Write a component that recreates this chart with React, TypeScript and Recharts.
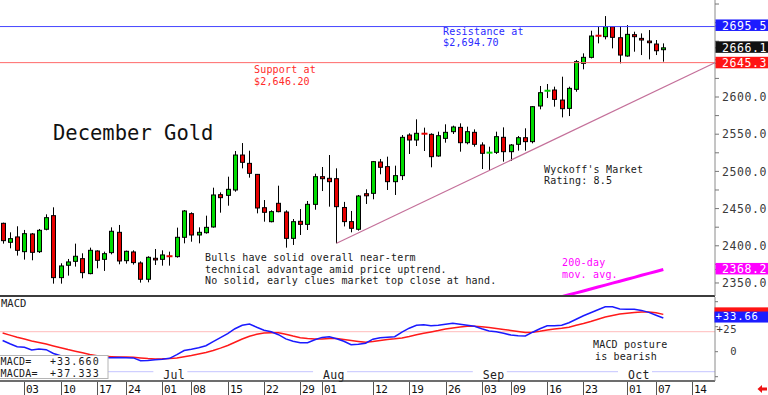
// December Gold daily candles + MACD panel, Recharts version.

import { ComposedChart, Bar, Line, XAxis, YAxis, ReferenceLine } from "recharts";

// ── Data (trading sessions May 29 .. Oct 08) ────────────────────────────────

const OPEN = [
  2430.2, 2404.7, 2411.9, 2392.1, 2415.9, 2392.1, 2422.2, 2440.5, 2357.2, 2373.8,
  2379.1, 2382.7, 2362.6, 2393.0, 2381.8, 2390.8, 2418.1, 2380.0, 2391.7, 2376.9,
  2355.0, 2383.2, 2381.8, 2386.3, 2385.4, 2411.4, 2443.2, 2414.5, 2417.6, 2425.3,
  2468.7, 2467.8, 2475.0, 2522.0, 2510.8, 2496.0, 2451.2, 2432.4, 2457.1, 2445.4,
  2410.0, 2432.9, 2428.8, 2455.7, 2492.9, 2490.7, 2490.2, 2451.5, 2432.5, 2422.2,
  2470.0, 2470.5, 2512.6, 2506.4, 2486.2, 2494.3, 2548.9, 2542.2, 2551.0, 2549.8,
  2520.7, 2544.4, 2553.4, 2559.2, 2538.6, 2552.5, 2535.5, 2524.8, 2525.6, 2545.8,
  2526.5, 2536.4, 2545.3, 2540.0, 2587.9, 2608.1, 2609.4, 2595.9, 2584.7, 2610.3,
  2645.2, 2653.3, 2682.6, 2681.1, 2694.5, 2679.7, 2655.1, 2683.8, 2678.8, 2675.2,
  2671.2, 2663.6,
];
const HIGH = [
  2431.1, 2418.1, 2426.2, 2421.3, 2417.2, 2422.6, 2442.3, 2451.7, 2376.5, 2382.3,
  2402.9, 2389.9, 2397.5, 2393.9, 2392.1, 2424.8, 2428.0, 2393.5, 2393.9, 2379.1,
  2385.9, 2395.7, 2393.9, 2392.1, 2424.4, 2448.1, 2445.0, 2424.8, 2440.5, 2478.1,
  2471.8, 2492.9, 2527.4, 2538.1, 2527.8, 2496.5, 2461.5, 2447.7, 2480.8, 2447.7,
  2436.0, 2449.4, 2460.2, 2496.9, 2505.9, 2522.0, 2504.1, 2459.0, 2446.8, 2468.3,
  2475.9, 2514.0, 2516.7, 2519.8, 2507.7, 2548.9, 2551.2, 2570.0, 2558.8, 2551.2,
  2553.4, 2563.3, 2561.5, 2564.6, 2560.1, 2556.5, 2539.1, 2533.2, 2553.4, 2559.2,
  2536.8, 2547.6, 2557.9, 2587.9, 2614.8, 2617.5, 2613.9, 2627.3, 2613.9, 2649.7,
  2658.7, 2689.1, 2694.5, 2708.8, 2695.4, 2695.4, 2696.7, 2687.8, 2685.5, 2690.0,
  2676.6, 2672.1,
];
const LOW = [
  2402.9, 2396.6, 2386.8, 2381.4, 2380.5, 2390.3, 2420.8, 2349.1, 2349.1, 2359.9,
  2372.0, 2356.3, 2361.7, 2369.7, 2366.2, 2388.5, 2375.1, 2376.0, 2374.7, 2350.5,
  2350.9, 2374.2, 2373.3, 2373.3, 2384.1, 2403.3, 2405.5, 2403.3, 2416.3, 2424.4,
  2444.5, 2453.9, 2472.7, 2504.1, 2491.6, 2443.6, 2432.4, 2431.5, 2445.0, 2397.5,
  2401.1, 2414.5, 2421.2, 2448.5, 2473.6, 2452.6, 2403.3, 2426.0, 2418.1, 2420.4,
  2456.2, 2462.5, 2496.1, 2475.0, 2468.3, 2488.4, 2523.4, 2534.1, 2527.4, 2505.5,
  2519.8, 2538.6, 2550.3, 2526.5, 2536.4, 2533.2, 2503.2, 2501.9, 2523.4, 2513.1,
  2514.0, 2527.9, 2527.9, 2537.7, 2583.4, 2598.6, 2587.0, 2572.6, 2574.4, 2607.1,
  2637.2, 2651.9, 2672.1, 2677.5, 2665.4, 2645.2, 2654.2, 2660.9, 2656.4, 2650.6,
  2656.4, 2647.5,
];
const CLOSE = [
  2406.9, 2409.6, 2393.9, 2416.3, 2391.2, 2420.8, 2437.8, 2357.2, 2372.9, 2378.3,
  2385.9, 2363.9, 2393.9, 2380.5, 2389.4, 2419.5, 2379.6, 2392.6, 2377.4, 2355.0,
  2384.5, 2381.0, 2387.7, 2385.6, 2411.4, 2446.8, 2414.5, 2418.1, 2424.8, 2468.3,
  2464.7, 2475.9, 2522.0, 2512.2, 2497.4, 2450.8, 2445.0, 2445.9, 2445.9, 2410.0,
  2432.4, 2428.8, 2455.7, 2492.9, 2490.2, 2486.2, 2452.6, 2432.5, 2423.5, 2466.9,
  2467.2, 2513.1, 2505.5, 2486.2, 2494.3, 2545.8, 2542.2, 2551.2, 2550.3, 2519.8,
  2548.0, 2552.5, 2559.7, 2538.6, 2553.4, 2536.4, 2524.3, 2525.6, 2546.7, 2526.5,
  2535.5, 2545.3, 2540.0, 2587.0, 2605.8, 2608.7, 2596.8, 2584.3, 2611.6, 2647.5,
  2653.3, 2682.0, 2682.1, 2694.5, 2680.2, 2656.4, 2684.2, 2681.1, 2676.6, 2673.0,
  2662.2, 2666.1,
];

const MACD = [
  11.2, 8.0, 5.0, 4.4, 1.7, 2.8, 2.0, -1.8, -4.0, -5.0,
  -5.5, -6.0, -6.0, -6.0, -6.0, -6.0, -5.8, -6.0, -6.2, -9.0,
  -8.8, -8.0, -7.5, -6.6, -3.0, 1.2, 2.5, 4.0, 6.0, 10.0,
  14.0, 18.0, 23.0, 26.5, 27.7, 24.5, 21.5, 20.0, 17.0, 12.8,
  10.5, 9.0, 9.0, 12.0, 14.3, 15.0, 13.0, 10.5, 7.0, 7.5,
  8.5, 12.5, 14.0, 14.5, 15.0, 19.5, 23.5, 26.5, 27.0, 26.0,
  26.5, 27.5, 28.4, 27.5, 26.5, 25.5, 23.0, 20.8, 20.0, 18.5,
  16.6, 16.0, 15.7, 19.5, 23.0, 26.0, 26.0, 26.5, 29.0, 32.5,
  36.0, 39.0, 42.0, 45.0, 45.0, 42.8, 42.5, 42.4, 41.3, 39.3,
  36.5, 33.66,
];
const MACDA = [
  18.7, 16.6, 14.5, 12.6, 10.8, 9.2, 7.6, 5.8, 4.0, 2.1,
  0.5, -1.1, -2.9, -4.0, -4.6, -5.0, -5.3, -5.4, -5.6, -6.2,
  -6.8, -7.2, -7.1, -6.8, -6.2, -5.0, -3.8, -2.3, -0.7, 1.2,
  3.6, 6.2, 9.4, 12.7, 15.5, 17.4, 18.6, 19.0, 19.0, 17.5,
  15.6, 14.0, 13.2, 12.7, 12.6, 13.2, 13.2, 12.2, 11.2, 10.3,
  9.5, 10.3, 11.3, 12.2, 12.9, 13.8, 15.2, 17.0, 18.4, 19.8,
  21.1, 22.6, 23.8, 24.8, 25.5, 25.5, 24.9, 24.2, 23.2, 22.3,
  21.3, 20.2, 19.2, 19.5, 20.5, 21.8, 22.6, 23.4, 24.5, 26.5,
  28.2, 30.2, 32.5, 34.6, 36.3, 37.6, 38.5, 39.3, 39.6, 39.6,
  38.9, 37.333,
];

// 200-day moving average, only the last sessions reach the visible price range
const MA200_START = 76;
const MA200 = [
  2328.9, 2331.5, 2334.1, 2336.7, 2339.3, 2341.9, 2344.5, 2347.1,
  2349.8, 2352.4, 2355.0, 2357.6, 2360.3, 2362.9, 2365.5, 2368.2,
];

const RESISTANCE = 2694.7;
const SUPPORT = 2646.2;
const TREND_FROM = { i: 46, p: 2403.3 };
const TREND_TO = { i: 98.1, p: 2646.0 };

const PRICE_TICKS = [2350, 2375, 2400, 2425, 2450, 2475, 2500, 2525, 2550, 2575, 2600, 2625, 2650, 2675, 2700, 2725];
const PRICE_LABELS = [2350, 2400, 2450, 2500, 2550, 2600]; // 2650 / 2700 sit under the tags
const PRICE_TAGS = [2368.2, 2645.3, 2666.1, 2695.5];
const MACD_TICKS = [-25, 0, 25, 50];
const MACD_LABELS = [0, 25];
const MACD_LEVELS = [20, -20];

const DATE_TICKS = [3, 8, 13, 17, 22, 26, 31, 36, 41, 44, 51, 56, 61, 66, 70, 75, 80, 86, 90, 95];
const DATE_LABELS = ["03", "10", "17", "24", "01", "08", "15", "22", "29", "01", "12", "19", "26", "03", "09", "16", "23", "01", "07", "14"];
const MONTH_IDX = [22, 44, 66, 86];
const MONTH_NAMES = ["Jul", "Aug", "Sep", "Oct"];

// ── Styling ────────────────────────────────────────────────────────────────

const X_DOMAIN: [number, number] = [-0.5, 98.12];
const PRICE_DOMAIN: [number, number] = [2332.5, 2730.4];
const MACD_DOMAIN: [number, number] = [-29.3, 54.7];

const MONO = "'DejaVu Sans Mono', 'Liberation Mono', monospace";
const UP = "#00dc00";
const DOWN = "#e80000";
const TAG_FILL = ["#ff00ff", "#ff1414", "#111111", "#1c1cff"];
const NOTE_SIZE = 10;
const NOTE_STEP = 11.7;

const MACD_LAST = MACD[MACD.length - 1];
const MACDA_LAST = MACDA[MACDA.length - 1];

const rows = CLOSE.map((c, i) => ({
  i,
  o: OPEN[i],
  h: HIGH[i],
  l: LOW[i],
  c,
  macd: MACD[i],
  sig: MACDA[i],
  ma: i >= MA200_START ? MA200[i - MA200_START] : null,
}));

// ── Shapes & ticks ─────────────────────────────────────────────────────────

function Candle(props: any) {
  const { x, y, width, height, payload } = props;
  if (!payload || payload.h == null || x == null) return <g />;
  const cx = Math.round(x + width / 2) + 0.5;
  const top = Math.min(y, y + height);
  const span = Math.abs(height);
  const range = payload.h - payload.l || 1;
  const toY = (v: number) => top + ((payload.h - v) / range) * span;
  const yo = toY(payload.o);
  const yc = toY(payload.c);
  const color = payload.c >= payload.o ? UP : DOWN;
  const bt = Math.min(yo, yc);
  const bh = Math.abs(yo - yc);
  return (
    <g>
      <line x1={cx} x2={cx} y1={top} y2={top + span} stroke="#000" strokeWidth={1} />
      {bh < 1.5 ? (
        <line x1={cx - 3} x2={cx + 3} y1={bt + bh / 2} y2={bt + bh / 2} stroke={color} strokeWidth={2} />
      ) : (
        <rect x={cx - 2} y={bt} width={4} height={bh} fill={color} stroke="#000" strokeWidth={1} />
      )}
    </g>
  );
}

function PriceTick(props: any) {
  const { x, y, payload } = props;
  const v = payload.value;
  const k = PRICE_TAGS.indexOf(v);
  if (k >= 0) {
    return (
      <g>
        <rect x={x - 6.5} y={y - 6.5} width={60} height={11.5} fill={TAG_FILL[k]} />
        <text x={x} y={y + 4} fill="#fff" fontFamily={MONO} fontSize={11.5} letterSpacing={0.6}>
          {v.toFixed(1)}
        </text>
      </g>
    );
  }
  if (!PRICE_LABELS.includes(v)) return <g />;
  return (
    <text x={x} y={y + 4.2} fill="#3a3a3a" fontFamily={MONO} fontSize={11.5} letterSpacing={0.6}>
      {v.toFixed(1)}
    </text>
  );
}

function MacdTick(props: any) {
  const { x, y, payload } = props;
  const v = payload.value;
  if (v === MACDA_LAST) {
    return <rect x={x - 6.5} y={y - 7} width={60} height={11} fill="#ff1414" />;
  }
  if (v === MACD_LAST) {
    return (
      <g>
        <rect x={x - 6.5} y={y - 6.5} width={60} height={11} fill="#1c1cff" />
        <text x={x - 5.5} y={y + 2.2} fill="#fff" fontFamily={MONO} fontSize={10.5} letterSpacing={0.9}>
          {`+${v.toFixed(2)}`}
        </text>
      </g>
    );
  }
  if (!MACD_LABELS.includes(v)) return <g />;
  // the label right under the MACD tag is nudged down so the two do not collide
  const nudge = Math.abs(v - MACD_LAST) < 10 ? 6 : 3;
  return (
    <text x={x + 16} y={y + nudge} textAnchor="end" fill="#3a3a3a" fontFamily={MONO} fontSize={10.5} letterSpacing={0.5}>
      {v > 0 ? `+${v}` : `${v}`}
    </text>
  );
}

function DateTick(props: any) {
  const { x, y, payload } = props;
  const k = DATE_TICKS.indexOf(payload.value);
  const px = Math.round(x) + 0.5;
  return (
    <g>
      <line x1={px} x2={px} y1={y + 1} y2={y + 15} stroke="#555" />
      <text x={px + 1.5} y={y + 11.5} fill="#111" fontFamily={MONO} fontSize={11} letterSpacing={-0.4}>
        {DATE_LABELS[k]}
      </text>
    </g>
  );
}

function MonthLabel(props: any) {
  const { viewBox, text } = props;
  if (!viewBox) return <g />;
  const bottom = viewBox.y + viewBox.height;
  return (
    <g>
      <rect x={viewBox.x - 9} y={bottom - 14} width={34} height={13} fill="#fff" />
      <text x={viewBox.x + 1} y={bottom - 2} fill="#222" fontFamily={MONO} fontSize={11.5} letterSpacing={0.3}>
        {text}
      </text>
    </g>
  );
}

// multi-line note, lines spaced so their boxes do not collide
function Note({ x, y, lines, fill }: { x: number; y: number; lines: string[]; fill: string }) {
  return (
    <g fill={fill} fontFamily={MONO} fontSize={NOTE_SIZE} letterSpacing={0.18}>
      {lines.map((s, k) => (
        <text key={k} x={x} y={y + k * NOTE_STEP}>{s}</text>
      ))}
    </g>
  );
}

// ── Annotation layer ───────────────────────────────────────────────────────

function Notes() {
  return (
    <svg width={768} height={395} style={{ position: "absolute", left: 0, top: 0, pointerEvents: "none" }}>
      <Note x={254} y={73.4} fill="#ff2a2a" lines={["Support at", "$2,646.20"]} />
      <Note x={443} y={34.6} fill="#2a2aff" lines={["Resistance at", "$2,694.70"]} />
      <text x={53} y={140} fill="#111" fontFamily={MONO} fontSize={20.5}>December Gold</text>
      <Note x={544} y={172.6} fill="#1a1a1a" lines={["Wyckoff's Market", "Rating: 8.5"]} />
      <Note
        x={205} y={260.8} fill="#1a1a1a"
        lines={[
          "Bulls have solid overall near-term",
          "technical advantage amid price uptrend.",
          "No solid, early clues market top close at hand.",
        ]}
      />
      <Note x={593} y={348.4} fill="#1a1a1a" lines={["MACD posture"]} />
      <Note x={595} y={360.1} fill="#1a1a1a" lines={["is bearish"]} />
      <Note x={562} y={266.1} fill="#ff00ff" lines={["200-day", "mov. avg."]} />
      <text x={1} y={306.5} fill="#222" fontFamily={MONO} fontSize={10.5}>MACD</text>
      <rect x={-0.5} y={355.5} width={108.5} height={23} fill="#fff" stroke="#b4b4b4" />
      <Note x={0.5} y={365} fill="#1a1a1a" lines={["MACD=", "MACDA="]} />
      <g fill="#1a1a1a" fontFamily={MONO} fontSize={NOTE_SIZE} letterSpacing={1.1}>
        <text x={50} y={365}>{`+${MACD_LAST.toFixed(3)}`}</text>
        <text x={50} y={365 + NOTE_STEP}>{`+${MACDA_LAST.toFixed(3)}`}</text>
      </g>
      <polygon points="757.5,389 762,385 762,387.5 767,387.5 767,390.5 762,390.5 762,393" fill="#ee1111" />
    </svg>
  );
}

// ── App ────────────────────────────────────────────────────────────────────

export default function App() {
  return (
    <div style={{ position: "absolute", left: 0, top: 0, width: 768, height: 395, background: "#fff", overflow: "hidden" }}>
      <div style={{ position: "absolute", left: -1, top: 0 }}>
        <ComposedChart width={769} height={297} data={rows} margin={{ top: 0, right: 0, bottom: 0, left: 0 }}>
          <XAxis
            type="number" dataKey="i" domain={X_DOMAIN} allowDataOverflow height={1}
            tick={false} tickLine={false} axisLine={{ stroke: "#3c3c3c", strokeWidth: 2 }}
          />
          <YAxis
            yAxisId="l" orientation="left" width={0} mirror domain={PRICE_DOMAIN} allowDataOverflow
            ticks={PRICE_TICKS} interval={0} tick={false} axisLine={false} tickSize={3} tickLine={{ stroke: "#777" }}
          />
          <YAxis
            yAxisId="r" orientation="right" width={53} domain={PRICE_DOMAIN} allowDataOverflow
            ticks={[...PRICE_TICKS, ...PRICE_TAGS]} interval={0} tickSize={4} tickMargin={3}
            axisLine={{ stroke: "#8a8a8a" }} tickLine={{ stroke: "#777" }} tick={<PriceTick />}
          />
          <ReferenceLine yAxisId="r" y={RESISTANCE} stroke="#4646ff" />
          <ReferenceLine yAxisId="r" y={SUPPORT} stroke="#ff6a6a" />
          <ReferenceLine
            yAxisId="r" stroke="#c4709a" strokeWidth={1.2}
            segment={[{ x: TREND_FROM.i, y: TREND_FROM.p }, { x: TREND_TO.i, y: TREND_TO.p }]}
          />
          <Line
            yAxisId="r" dataKey="ma" stroke="#ff00ff" strokeWidth={3} dot={false}
            isAnimationActive={false} connectNulls={false}
          />
          <Bar
            yAxisId="r" dataKey={(d: any) => [d.l, d.h]} barSize={5}
            shape={(p: any) => <Candle {...p} />} isAnimationActive={false}
          />
        </ComposedChart>
      </div>
      <div style={{ position: "absolute", left: -1, top: 297 }}>
        <ComposedChart width={769} height={98} data={rows} margin={{ top: 0, right: 0, bottom: 0, left: 0 }}>
          <XAxis
            type="number" dataKey="i" domain={X_DOMAIN} allowDataOverflow height={14}
            ticks={DATE_TICKS} interval={0} tickSize={0} tickMargin={0} tickLine={false}
            axisLine={{ stroke: "#3c3c3c", strokeWidth: 1.5 }} tick={<DateTick />}
          />
          <YAxis
            yAxisId="r" orientation="right" width={53} domain={MACD_DOMAIN} allowDataOverflow
            ticks={[...MACD_TICKS, MACDA_LAST, MACD_LAST]} interval={0} tickSize={3} tickMargin={3}
            axisLine={{ stroke: "#8a8a8a" }} tickLine={{ stroke: "#777" }} tick={<MacdTick />}
          />
          <ReferenceLine yAxisId="r" y={MACD_LEVELS[0]} stroke="#ffbcbc" />
          <ReferenceLine yAxisId="r" y={MACD_LEVELS[1]} stroke="#c4c4ff" />
          {MONTH_IDX.map((m, k) => (
            <ReferenceLine key={m} yAxisId="r" x={m} stroke="none" label={<MonthLabel text={MONTH_NAMES[k]} />} />
          ))}
          <Line yAxisId="r" dataKey="sig" stroke="#ff1a1a" strokeWidth={1.5} dot={false} isAnimationActive={false} />
          <Line yAxisId="r" dataKey="macd" stroke="#1a1aff" strokeWidth={1.5} dot={false} isAnimationActive={false} />
        </ComposedChart>
      </div>
      <Notes />
    </div>
  );
}
